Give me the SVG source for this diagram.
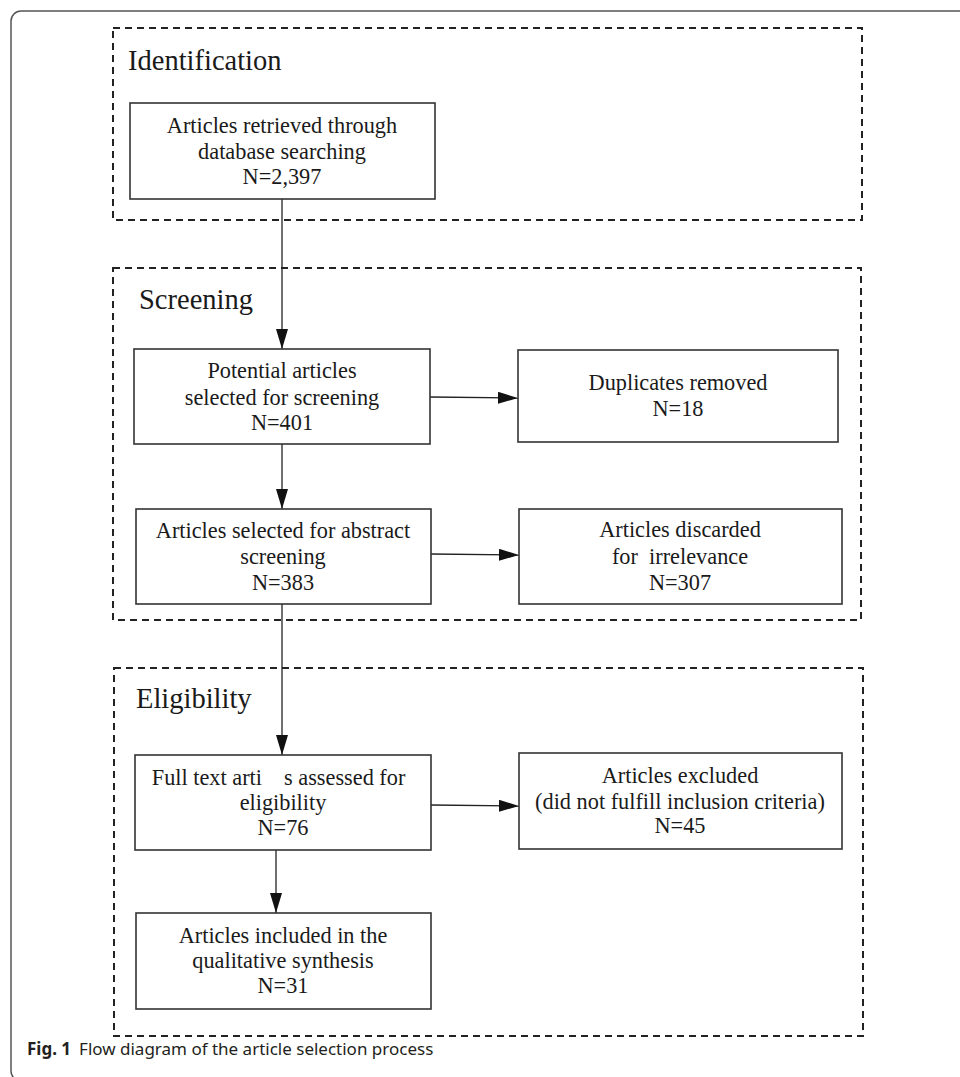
<svg xmlns="http://www.w3.org/2000/svg" width="960" height="1077" viewBox="0 0 960 1077">
<style>
.frame{fill:none;stroke:#555;stroke-width:1.5}
.stage{fill:none;stroke:#222;stroke-width:2;stroke-dasharray:7 5}
.box{fill:#fff;stroke:#333;stroke-width:1.6}
.t{font-family:"Liberation Serif","Times New Roman",serif;font-size:22.3px;fill:#1a1a1a;text-anchor:middle}
.h{font-family:"Liberation Serif","Times New Roman",serif;font-size:28.5px;fill:#1a1a1a}
.cap{font-family:"Noto Sans","Open Sans",sans-serif;font-size:17px;fill:#231f20}
.con{fill:none;stroke:#222;stroke-width:1.3}
</style>
<defs>
<marker id="arr" markerWidth="20" markerHeight="12" refX="20" refY="6" orient="auto" markerUnits="userSpaceOnUse">
<path d="M0,0 L20,6 L0,12 Z" fill="#111"/>
</marker>
</defs>
<rect width="960" height="1077" fill="#fff"/>
<rect class="frame" x="11" y="11" width="1000" height="1070" rx="10"/>

<g id="stage-identification">
<rect class="stage" x="113" y="28" width="749" height="192"/>
<text class="h" x="128" y="70">Identification</text>
</g>
<g id="stage-screening">
<rect class="stage" x="113" y="268" width="748" height="352"/>
<text class="h" x="139" y="309">Screening</text>
</g>
<g id="stage-eligibility">
<rect class="stage" x="114" y="668" width="749" height="368"/>
<text class="h" x="136" y="708">Eligibility</text>
</g>

<g id="connectors">
<line class="con" x1="282" y1="199" x2="282" y2="349" marker-end="url(#arr)"/>
<line class="con" x1="430" y1="397" x2="518" y2="398" marker-end="url(#arr)"/>
<line class="con" x1="282" y1="444" x2="282" y2="509" marker-end="url(#arr)"/>
<line class="con" x1="431" y1="554" x2="519" y2="555" marker-end="url(#arr)"/>
<line class="con" x1="282" y1="604" x2="282" y2="755" marker-end="url(#arr)"/>
<line class="con" x1="431" y1="805" x2="519" y2="806" marker-end="url(#arr)"/>
<line class="con" x1="276" y1="850" x2="276" y2="913" marker-end="url(#arr)"/>
</g>

<g id="n-retrieved">
<rect class="box" x="130" y="103" width="305" height="96"/>
<text class="t" x="282" y="133">Articles retrieved through</text>
<text class="t" x="282" y="159">database searching</text>
<text class="t" x="282" y="184">N=2,397</text>
</g>
<g id="n-potential">
<rect class="box" x="134" y="349" width="296" height="95"/>
<text class="t" x="282" y="378">Potential articles</text>
<text class="t" x="282" y="405">selected for screening</text>
<text class="t" x="282" y="430">N=401</text>
</g>
<g id="n-duplicates">
<rect class="box" x="518" y="350" width="320" height="92"/>
<text class="t" x="678" y="390">Duplicates removed</text>
<text class="t" x="678" y="416">N=18</text>
</g>
<g id="n-abstract">
<rect class="box" x="136" y="509" width="295" height="95"/>
<text class="t" x="283" y="538">Articles selected for abstract</text>
<text class="t" x="283" y="564">screening</text>
<text class="t" x="283" y="590">N=383</text>
</g>
<g id="n-discarded">
<rect class="box" x="519" y="509" width="323" height="95"/>
<text class="t" x="680" y="537">Articles discarded</text>
<text class="t" x="680" y="564" xml:space="preserve">for  irrelevance</text>
<text class="t" x="680" y="590">N=307</text>
</g>
<g id="n-fulltext">
<rect class="box" x="135" y="755" width="296" height="95"/>
<text class="t" x="262" y="785" style="text-anchor:end">Full text arti</text>
<text class="t" x="284" y="785" style="text-anchor:start">s assessed for</text>
<text class="t" x="283" y="810">eligibility</text>
<text class="t" x="283" y="835">N=76</text>
</g>
<g id="n-excluded">
<rect class="box" x="519" y="753" width="323" height="96"/>
<text class="t" x="680" y="783">Articles excluded</text>
<text class="t" x="680" y="809">(did not fulfill inclusion criteria)</text>
<text class="t" x="680" y="833">N=45</text>
</g>
<g id="n-included">
<rect class="box" x="136" y="913" width="295" height="96"/>
<text class="t" x="283" y="943">Articles included in the</text>
<text class="t" x="283" y="968">qualitative synthesis</text>
<text class="t" x="283" y="993">N=31</text>
</g>

<text class="cap" x="27" y="1055"><tspan font-weight="bold">Fig. 1</tspan><tspan dx="8">Flow diagram of the article selection process</tspan></text>
</svg>
